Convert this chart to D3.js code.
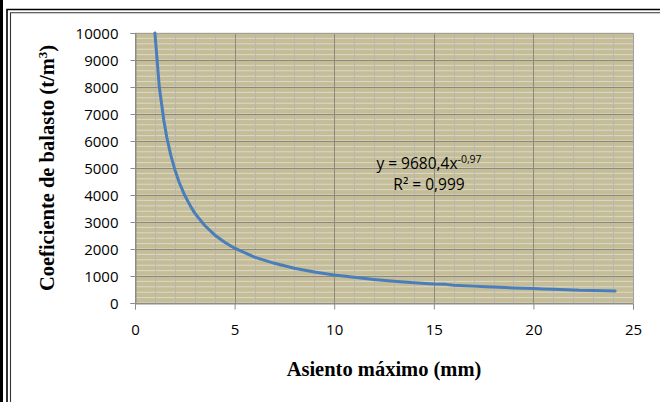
<!DOCTYPE html>
<html>
<head>
<meta charset="utf-8">
<script src="https://cdn.jsdelivr.net/npm/d3@7"></script>
<style>
  html, body { margin: 0; padding: 0; background: #fff; }
  svg { display: block; }
</style>
</head>
<body>
<div id="chart"></div>
<script>
// Asiento máximo (mm) vs coeficiente de balasto (t/m3)
const asiento = [1.0, 1.22, 1.45, 1.6, 1.8, 2.0, 2.2, 2.5, 2.8, 3.0, 3.5, 4.0, 4.5, 5.0,
  6, 7, 8, 9, 10, 11, 12, 13, 14, 15, 15.6, 16, 17, 17.6, 18, 19, 20, 20.5, 21, 22, 22.3, 23, 24.1];
const balasto = [10000, 8000, 6750, 6120, 5470, 4940, 4500, 3980, 3570, 3330, 2870, 2520, 2250, 2030,
  1700, 1470, 1290, 1150, 1040, 950, 870, 805, 750, 705, 690, 660, 625, 605, 590, 560, 535, 520, 505, 485, 470, 460, 440];

const xTicks = [0, 5, 10, 15, 20, 25];
const yTicks = [0, 1000, 2000, 3000, 4000, 5000, 6000, 7000, 8000, 9000, 10000];
const eqMain = 'y = 9680,4x';
const eqExp = '-0,97';
const eqR2 = 'R² = 0,999';

const width = 660, height = 402;
const plot = { left: 135, top: 33, right: 633, bottom: 303 };

const svg = d3.select('#chart').append('svg')
  .attr('width', width)
  .attr('height', height);

// Frame (double border, cut off at right and bottom)
svg.append('rect').attr('x', 0).attr('y', 0).attr('width', 3).attr('height', height).attr('fill', '#000');
svg.append('path').attr('d', `M7,${height + 5} V9.5 H${width + 5}`)
  .attr('fill', 'none').attr('stroke', '#000').attr('stroke-width', 1.6);
svg.append('path').attr('d', `M10.5,${height + 5} V12.8 H${width + 5}`)
  .attr('fill', 'none').attr('stroke', '#333').attr('stroke-width', 1.1);

const x = d3.scaleLinear().domain([0, 25]).range([plot.left, plot.right]);
const y = d3.scaleLinear().domain([0, 10000]).range([plot.bottom, plot.top]);

// Plot area
svg.append('rect')
  .attr('x', plot.left).attr('y', plot.top)
  .attr('width', plot.right - plot.left).attr('height', plot.bottom - plot.top)
  .attr('fill', '#c4bd97');

const grid = svg.append('g');
// minor gridlines
grid.selectAll('.hmin').data(d3.range(0, 10001, 200)).enter().append('line')
  .attr('x1', plot.left).attr('x2', plot.right)
  .attr('y1', d => y(d)).attr('y2', d => y(d))
  .attr('stroke', '#dcd9cc').attr('stroke-width', 1);
grid.selectAll('.vmin').data(d3.range(0, 26, 1)).enter().append('line')
  .attr('y1', plot.top).attr('y2', plot.bottom)
  .attr('x1', d => Math.round(x(d)) + 0.5).attr('x2', d => Math.round(x(d)) + 0.5)
  .attr('stroke', '#b9b7b0').attr('stroke-width', 1);
// major gridlines
grid.selectAll('.hmaj').data(yTicks).enter().append('line')
  .attr('x1', plot.left).attr('x2', plot.right)
  .attr('y1', d => Math.round(y(d)) + 0.5).attr('y2', d => Math.round(y(d)) + 0.5)
  .attr('stroke', '#8c8a80').attr('stroke-width', 1);
grid.selectAll('.vmaj').data(xTicks).enter().append('line')
  .attr('y1', plot.top).attr('y2', plot.bottom)
  .attr('x1', d => Math.round(x(d)) + 0.5).attr('x2', d => Math.round(x(d)) + 0.5)
  .attr('stroke', '#8c8a80').attr('stroke-width', 1);

// plot border top/right
svg.append('path')
  .attr('d', `M${plot.left},${plot.top + 0.5} H${plot.right + 0.5} V${plot.bottom}`)
  .attr('fill', 'none').attr('stroke', '#a0a0a0').attr('stroke-width', 1);

// Axes
const tickFont = '"Open Sans", sans-serif';
const yAxis = svg.append('g')
  .attr('transform', `translate(${plot.left + 0.5},0)`)
  .call(d3.axisLeft(y).tickValues(yTicks).tickSize(5).tickPadding(12).tickFormat(d3.format('d')));
const xAxis = svg.append('g')
  .attr('transform', `translate(0,${plot.bottom + 0.5})`)
  .call(d3.axisBottom(x).tickValues(xTicks).tickSize(6).tickPadding(15).tickFormat(d3.format('d')));
[xAxis, yAxis].forEach(ax => {
  ax.select('.domain').attr('stroke', '#8c8c8c');
  ax.selectAll('.tick line').attr('stroke', '#8c8c8c');
  ax.selectAll('.tick text').attr('fill', '#000')
    .style('font-family', tickFont).style('font-size', '15px');
});
yAxis.selectAll('.tick text').attr('dy', '0.36em');

// Data line
const line = d3.line()
  .x((d, i) => x(asiento[i]))
  .y(d => y(d));
svg.append('path')
  .datum(balasto)
  .attr('d', line)
  .attr('fill', 'none')
  .attr('stroke', '#4a7ebb')
  .attr('stroke-width', 3)
  .attr('stroke-linejoin', 'round')
  .attr('stroke-linecap', 'round');

// Trendline label
const eq = svg.append('text')
  .attr('x', 429).attr('y', 169)
  .attr('text-anchor', 'middle')
  .style('font-family', tickFont).style('font-size', '15.5px').attr('fill', '#000');
eq.append('tspan').text(eqMain);
eq.append('tspan').attr('dy', -6).style('font-size', '10.5px').text(eqExp);
svg.append('text')
  .attr('x', 429).attr('y', 190)
  .attr('text-anchor', 'middle')
  .style('font-family', tickFont).style('font-size', '15.5px').attr('fill', '#000')
  .text(eqR2);

// Axis titles
const titleFont = '"Liberation Serif", "Times New Roman", serif';
svg.append('text')
  .attr('x', (plot.left + plot.right) / 2).attr('y', 376)
  .attr('text-anchor', 'middle')
  .style('font-family', titleFont).style('font-size', '20.5px').style('font-weight', 'bold')
  .text('Asiento máximo (mm)');

const yt = svg.append('text')
  .attr('transform', `translate(54,${(plot.top + plot.bottom) / 2}) rotate(-90)`)
  .attr('text-anchor', 'middle')
  .style('font-family', titleFont).style('font-size', '20.5px').style('font-weight', 'bold');
yt.append('tspan').text('Coeficiente de balasto (t/m');
yt.append('tspan').attr('dy', -7).style('font-size', '13px').text('3');
yt.append('tspan').attr('dy', 7).text(')');
</script>
</body>
</html>
